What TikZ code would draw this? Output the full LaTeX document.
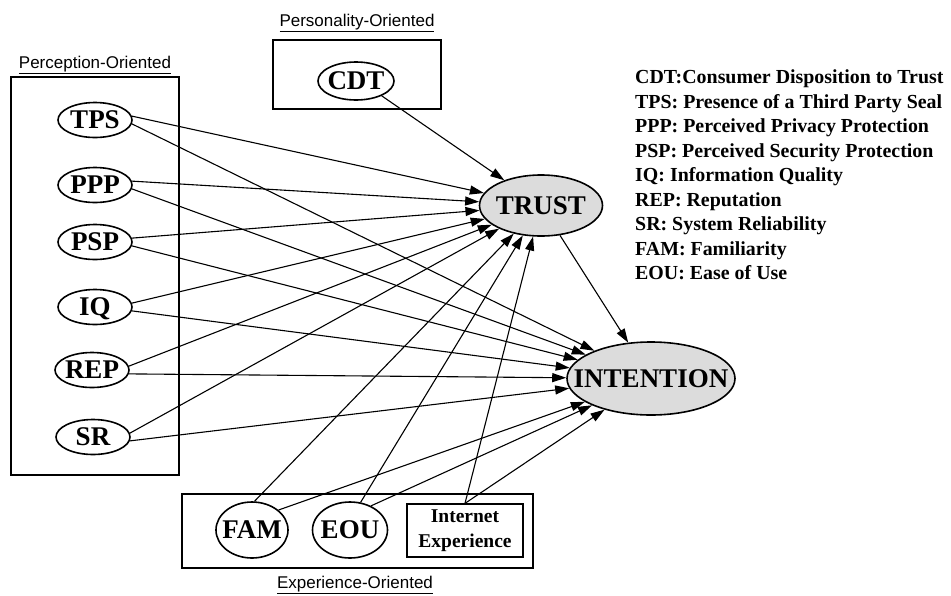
\documentclass[tikz,border=0pt]{standalone}
\usepackage{fontspec}
\setmainfont{Liberation Serif}
\newfontfamily\arialfont{Liberation Sans}
\usetikzlibrary{shapes.geometric,arrows.meta}
\definecolor{ellgray}{HTML}{DCDCDC}
\newcommand\ctrbox[1]{\makebox[0pt]{#1}}

\begin{document}
\begin{tikzpicture}[x=1pt,y=-1pt,
  elln/.style={ellipse,draw,line width=1.6pt,inner sep=0pt,text height=17.8pt,text depth=0pt,
    font=\fontsize{27}{29}\selectfont\bfseries},
  smallell/.style={elln,minimum width=74pt,minimum height=35pt},
  bigell/.style={elln,fill=ellgray},
  grp/.style={draw,line width=1.4pt,inner sep=0pt},
  grplabel/.style={font=\arialfont\fontsize{17}{19}\selectfont,inner sep=0pt},
  arr/.style={line width=1.1pt,-{Triangle[length=14pt,width=9pt]}},
  legendtxt/.style={anchor=base west,inner sep=0pt,font=\fontsize{19.9}{22}\selectfont\bfseries}]

\useasboundingbox (0,0) rectangle (951,595);

% group boxes
\node[grp,minimum width=168pt,minimum height=398pt] (percbox) at (95,276) {};
\node[grp,minimum width=168pt,minimum height=69pt] (persbox) at (357,74.5) {};
\node[grp,minimum width=351pt,minimum height=74pt] (expbox) at (357.5,531) {};

\node[grplabel] (perclabel) at (95,65) {\underline{Perception-Oriented}};
\node[grplabel] (perslabel) at (357,23) {\underline{Personality-Oriented}};
\node[grplabel] (explabel) at (355,585) {\underline{Experience-Oriented}};

% perception nodes
\node[smallell] (tps) at (95,120) {\ctrbox{TPS}};
\node[smallell] (ppp) at (95,185) {\ctrbox{PPP}};
\node[smallell] (psp) at (95,242) {\ctrbox{PSP}};
\node[smallell] (iq)  at (95,307) {\ctrbox{IQ}};
\node[smallell] (rep) at (92,370) {\ctrbox{REP}};
\node[smallell] (sr)  at (93,437) {\ctrbox{SR}};

% personality
\node[elln,minimum width=76pt,minimum height=38pt] (cdt) at (356,81) {\ctrbox{CDT}};

% experience
\node[elln,minimum width=72pt,minimum height=56pt] (fam) at (252,530) {\ctrbox{FAM}};
\node[elln,minimum width=75pt,minimum height=56pt] (eou) at (350,530) {\ctrbox{EOU}};
\node[draw,line width=1.3pt,inner sep=0pt,minimum width=116pt,minimum height=53pt,align=center,
  font=\fontsize{19.5}{24.5}\selectfont\bfseries] (inet) at (465,530.5) {Internet\\Experience};

% outcome nodes
\node[bigell,minimum width=123pt,minimum height=61pt] (trust) at (541,205.5) {\ctrbox{TRUST}};
\node[bigell,minimum width=168pt,minimum height=73pt] (intention) at (651,378.5) {\ctrbox{INTENTION}};

% connectors
\foreach \s in {tps,ppp,psp,iq,rep,sr}{
  \draw[arr] (\s.6) -- (trust);
  \draw[arr] (\s.-6) -- (intention);
}
\draw[arr] (cdt.-30) -- (trust);
\draw[arr] (trust) -- (intention);
\draw[arr] (fam.85) -- (trust);
\draw[arr] (fam.37) -- (intention);
\draw[arr] (eou.69) -- (trust);
\draw[arr] (eou.49) -- (intention);
\draw[arr] (inet.north) -- (trust);
\draw[arr] (inet.north) -- (intention);

% legend
\foreach \t [count=\i] in {CDT:Consumer Disposition to Trust,
  TPS: Presence of a Third Party Seal,
  PPP: Perceived Privacy Protection,
  PSP: Perceived Security Protection,
  IQ: Information Quality,
  REP: Reputation,
  SR: System Reliability,
  FAM: Familiarity,
  EOU: Ease of Use}{
  \node[legendtxt] (leg\i) at (635,{83.6+24.5*(\i-1)}) {\t};
}
\end{tikzpicture}
\end{document}
